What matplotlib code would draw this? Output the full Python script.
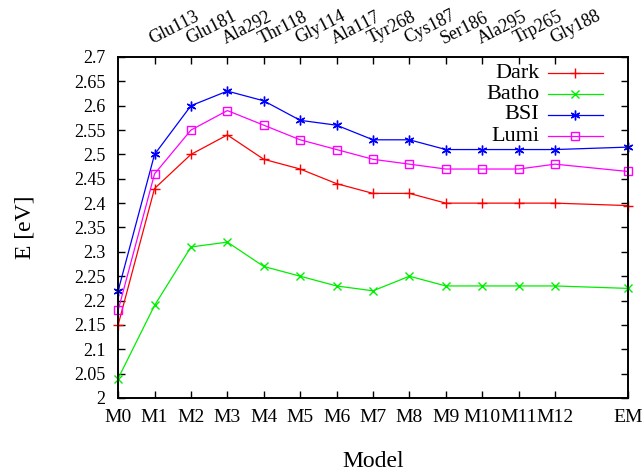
import matplotlib
matplotlib.use('Agg')
import matplotlib.pyplot as plt
import numpy as np
from matplotlib.ticker import FuncFormatter

models = ['M0', 'M1', 'M2', 'M3', 'M4', 'M5', 'M6', 'M7', 'M8', 'M9',
          'M10', 'M11', 'M12', 'EM']
model_x = [0, 1, 2, 3, 4, 5, 6, 7, 8, 9, 10, 11, 12, 14]
residues = ['Glu113', 'Glu181', 'Ala292', 'Thr118', 'Gly114', 'Ala117',
            'Tyr268', 'Cys187', 'Ser186', 'Ala295', 'Trp265', 'Gly188']

dark = [2.15, 2.43, 2.50, 2.54, 2.49, 2.47, 2.44, 2.42, 2.42, 2.40, 2.40, 2.40, 2.40, 2.395]
batho = [2.04, 2.19, 2.31, 2.32, 2.27, 2.25, 2.23, 2.22, 2.25, 2.23, 2.23, 2.23, 2.23, 2.225]
bsi = [2.22, 2.50, 2.60, 2.63, 2.61, 2.57, 2.56, 2.53, 2.53, 2.51, 2.51, 2.51, 2.51, 2.515]
lumi = [2.18, 2.46, 2.55, 2.59, 2.56, 2.53, 2.51, 2.49, 2.48, 2.47, 2.47, 2.47, 2.48, 2.465]

plt.rcParams['font.family'] = ['Liberation Serif', 'DejaVu Serif']
plt.rcParams['font.size'] = 13

fig = plt.figure(figsize=(6.42, 4.71), dpi=100)
ax = fig.add_axes([0.184, 0.155, 0.794, 0.724])

series = [('Dark', dark, '#ff0000', '+', 7, 'none'),
          ('Batho', batho, '#00ee00', 'x', 6, 'none'),
          ('BSI', bsi, '#0000ff', (6, 2, 0), 7, 'none'),
          ('Lumi', lumi, '#ff00ff', 's', 6, 'none')]

leg_y = [0.953, 0.891, 0.830, 0.768]
for (name, vals, col, mk, ms, fc), ly in zip(series, leg_y):
    ax.plot(model_x, vals, color=col, marker=mk, ms=ms, mfc=fc, mew=1.0, lw=0.9,
            clip_on=False, zorder=3)
    # gnuplot-style key: right aligned text, sample line to its right
    ax.text(0.826, ly, name, transform=ax.transAxes, ha='right', va='center',
            fontsize=16)
    ax.plot([0.843, 0.897, 0.951], [ly, ly, ly], transform=ax.transAxes,
            color=col, marker=mk, ms=ms, mfc=fc, mew=1.0, lw=0.9, markevery=[1])

ax.set_xlim(0, 14)
ax.set_ylim(2.0, 2.7)
ax.set_xticks(model_x)
ax.set_xticklabels(models, fontsize=14)
ax.set_yticks(np.arange(2.0, 2.7001, 0.05))
ax.yaxis.set_major_formatter(FuncFormatter(lambda v, p: '%g' % round(v, 2)))
ax.tick_params(direction='in', length=5, width=1, right=True, labelsize=13, pad=9)
ax.tick_params(axis='x', labelsize=14, pad=8)
ax.set_xlabel('Model', fontsize=17, labelpad=18)
ax.set_ylabel('E [eV]', fontsize=17, labelpad=28)

ax2 = ax.twiny()
ax2.set_xlim(0, 14)
ax2.set_xticks(model_x[1:13])
ax2.set_xticklabels(residues, rotation=27, ha='left', rotation_mode='anchor',
                    fontsize=13)
ax2.tick_params(direction='in', length=5, width=1, pad=7)

for a in (ax, ax2):
    for s in a.spines.values():
        s.set_linewidth(1.2)

fig.savefig('out.png', dpi=100)
